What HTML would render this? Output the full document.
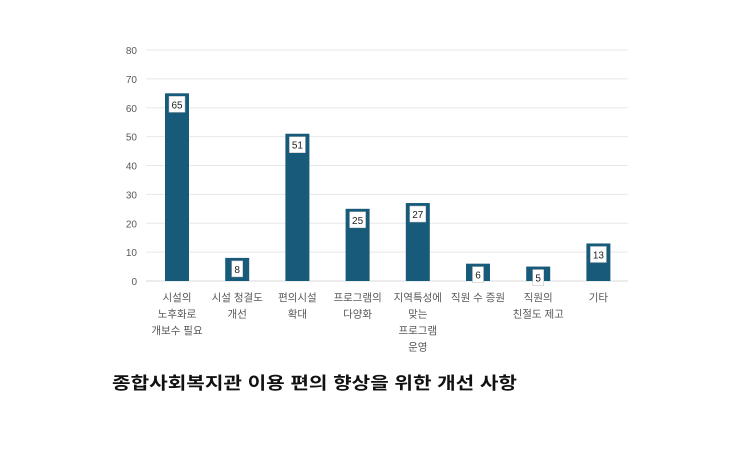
<!DOCTYPE html>
<html><head><meta charset="utf-8"><style>
body{margin:0;background:#fff;width:730px;height:452px;overflow:hidden}
svg{display:block}
</style></head><body>
<svg id="chart" width="730" height="452" xmlns="http://www.w3.org/2000/svg"></svg>
<script>
const categories = [["시설의","노후화로","개보수 필요"],["시설 청결도","개선"],["편의시설","확대"],["프로그램의","다양화"],["지역특성에","맞는","프로그램","운영"],["직원 수 증원"],["직원의","친절도 제고"],["기타"]];
const values = [65, 8, 51, 25, 27, 6, 5, 13];
const yTicks = [0, 10, 20, 30, 40, 50, 60, 70, 80];

const NS = "http://www.w3.org/2000/svg";
const svg = document.getElementById('chart');
const y0 = 281, yTop = 50, yMax = 80;
const xL = 146, xR = 628;
const step = 60.2, firstC = 177;
const y = v => y0 - (v / yMax) * (y0 - yTop);
const x = i => firstC + i * step;
function mk(tag, attrs, text) {
  const e = document.createElementNS(NS, tag);
  for (const k in attrs) e.setAttribute(k, attrs[k]);
  if (text !== undefined) e.textContent = text;
  svg.appendChild(e);
  return e;
}
const font = '"Liberation Sans","Noto Sans CJK KR",sans-serif';
yTicks.forEach(t => {
  const g = mk('line', {x1: xL, x2: xR, y1: y(t), y2: y(t), stroke: t === 0 ? '#d9d9d9' : '#e8e8e8', 'stroke-width': 1});
  
  
  const l = mk('text', {x: 137, y: y(t) + 4, 'text-anchor': 'end', 'font-size': 10, fill: '#595959', 'font-family': font}, t);
  
  
});
values.forEach((v, i) => {
  const b = mk('rect', {x: x(i) - 12, y: y(v), width: 24, height: y0 - y(v), fill: '#175a7a'});
  
  
  const w = v >= 10 ? 16 : 11;
  const bx = mk('rect', {x: x(i) - w / 2, y: y(v) + 3, width: w, height: 16, fill: '#fff', stroke: '#bbb', 'stroke-width': 0.5});
  
  
  const t = mk('text', {x: x(i), y: y(v) + 15, 'text-anchor': 'middle', 'font-size': 10, fill: '#222', 'font-family': font}, v);
  
  
  categories[i].forEach((line, j) => {
    const c = mk('text', {x: x(i), y: 301 + j * 16.5, 'text-anchor': 'middle', 'font-size': 10.5, fill: '#595959', 'font-family': font}, line);
    
    
  });
});
const title = mk('text', {x: 112, y: 389, 'font-size': 17, 'font-weight': 'bold', fill: '#111', 'font-family': '"Liberation Sans","Noto Sans CJK KR",sans-serif', textLength: 405, lengthAdjust: 'spacingAndGlyphs'}, '종합사회복지관 이용 편의 향상을 위한 개선 사항');


</script>
</body></html>
